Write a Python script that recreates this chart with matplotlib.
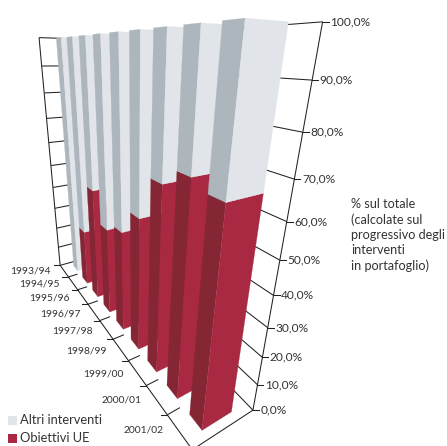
import numpy as np
import matplotlib
matplotlib.use('Agg')
import matplotlib.pyplot as plt
from matplotlib.patches import Rectangle
from mpl_toolkits.mplot3d.art3d import Line3DCollection, Poly3DCollection

plt.rcParams['font.family'] = ['Lato', 'DejaVu Sans']

# data
years = ['1993/94', '1994/95', '1995/96', '1996/97', '1997/98',
         '1998/99', '1999/00', '2000/01', '2001/02']
obiettivi_ue = [0.0, 25.4, 47.6, 36.2, 40.2, 49.8, 64.0, 69.1, 67.0]
altri_interventi = [100 - v for v in obiettivi_ue]
value_ticks = [0, 10, 20, 30, 40, 50, 60, 70, 80, 90, 100]
note = ['% sul totale', '(calcolate sul', 'progressivo degli', 'interventi', 'in portafoglio)']

# colours: (front face, side face)
altri_colors = ('#e1e4e9', '#aeb6bd')
ue_colors = ('#a92943', '#852635')
ink = '#222222'
text_color = '#333333'

W, H = 447, 446
n = len(years)
bar_x0, bar_x1 = 0.26, 0.74
bar_y0, bar_y1 = 0.25, 0.74

# camera: fit a 3x4 projection on the corners of the plot box (slot, across, percent) -> pixel
box_world = [(0, 0, 0), (n, 0, 0), (n, 1, 0), (0, 1, 0),
             (0, 0, 100), (n, 0, 100), (n, 1, 100), (0, 1, 100)]
box_px = [(60, 265), (192, 450), (253, 410), (102, 254),
          (39, 37), (234, 16), (322, 20), (93, 40)]
rows = []
for (x, y, z), (u, v) in zip(box_world, box_px):
    rows.append([x, y, z, 1, 0, 0, 0, 0, -u * x, -u * y, -u * z, -u])
    rows.append([0, 0, 0, 0, x, y, z, 1, -v * x, -v * y, -v * z, -v])
P = np.linalg.svd(np.array(rows, dtype=float))[2][-1].reshape(3, 4)
P = P / (P[2] @ [n / 2, 0.5, 50, 1])


def to_px(x, y, z):
    u, v, w = P @ [x, y, z, 1]
    return u / w, v / w


fig = plt.figure(figsize=(W / 100, H / 100), dpi=100)
ax = fig.add_axes([0, 0, 1, 1], projection='3d')
ax.set_axis_off()
ax.computed_zorder = False
ax.apply_aspect()

# hand the fitted camera to the 3d axes
T = ax.transData.get_affine().get_matrix()
flip = np.array([[1, 0, 0], [0, -1, H], [0, 0, 1]], dtype=float)
Q = np.linalg.inv(T) @ flip @ P
M = np.vstack([Q[0], Q[1], Q[2] - [0, 0, 0, 0.5], Q[2]])
ax.get_proj = lambda: M

# walls and floor
segments = []
for v in value_ticks:
    segments.append([(0, 0, v), (0, 1, v)])
    segments.append([(0, 1, v), (n, 1, v)])
segments.append([(0, 0, 0), (0, 0, 100)])
segments.append([(n, 1, 0), (n, 1, 100)])
segments.append([(0, 0, 0), (n, 0, 0)])
segments.append([(n, 0, 0), (n, 1, 0)])
for i in range(1, n):
    segments.append([(i, 0, 0), (i, 0.2, 0)])
ax.add_collection3d(Line3DCollection(segments, colors=ink, linewidths=0.75, zorder=1), autolim=False)


def add_bar(i, z0, z1, colors):
    x0, x1 = i + bar_x0, i + bar_x1
    side = [(x0, bar_y0, z0), (x1, bar_y0, z0), (x1, bar_y0, z1), (x0, bar_y0, z1)]
    front = [(x1, bar_y0, z0), (x1, bar_y1, z0), (x1, bar_y1, z1), (x1, bar_y0, z1)]
    for verts, color in ((side, colors[1]), (front, colors[0])):
        poly = Poly3DCollection([verts], facecolors=color, edgecolors=color,
                                linewidths=0.2, zorder=2 + i)
        ax.add_collection3d(poly, autolim=False)


# bars from the back to the front
for i in range(n):
    if obiettivi_ue[i] > 0:
        add_bar(i, 0, obiettivi_ue[i], ue_colors)
    add_bar(i, obiettivi_ue[i], obiettivi_ue[i] + altri_interventi[i], altri_colors)

# flat overlay in pixels for ticks, labels and legend
ov = fig.add_axes([0, 0, 1, 1])
ov.axis('off')
ov.set_xlim(0, W)
ov.set_ylim(H, 0)

for v in value_ticks:
    px, py = to_px(n, 1, v)
    ov.plot([px, px + 6], [py, py], color=ink, lw=0.75)
    ov.text(px + 7.5, py, f'{v},0%', color=text_color, fontsize=8.6, va='center', ha='left')

for i, year in enumerate(years):
    px, py = to_px(i, 0, 0)
    ov.plot([px - 6, px], [py, py], color=ink, lw=0.75)
    ov.text(px - 10 + 0.8 * i, py + 6 + 1.2 * i, year, color=text_color,
            fontsize=7.4, va='center', ha='right')

for k, line in enumerate(note):
    ov.text(351, 204 + 15.5 * k, line, color=text_color, fontsize=9.1, va='center', ha='left')

# legend
ov.add_patch(Rectangle((8, 416), 9, 8.5, color=altri_colors[0], lw=0))
ov.add_patch(Rectangle((8, 434), 9, 8.5, color=ue_colors[0], lw=0))
ov.text(20, 420, 'Altri interventi', color=text_color, fontsize=9.3, va='center', ha='left')
ov.text(20, 438, 'Obiettivi UE', color=text_color, fontsize=9.3, va='center', ha='left')

fig.savefig('out.png', dpi=100)
